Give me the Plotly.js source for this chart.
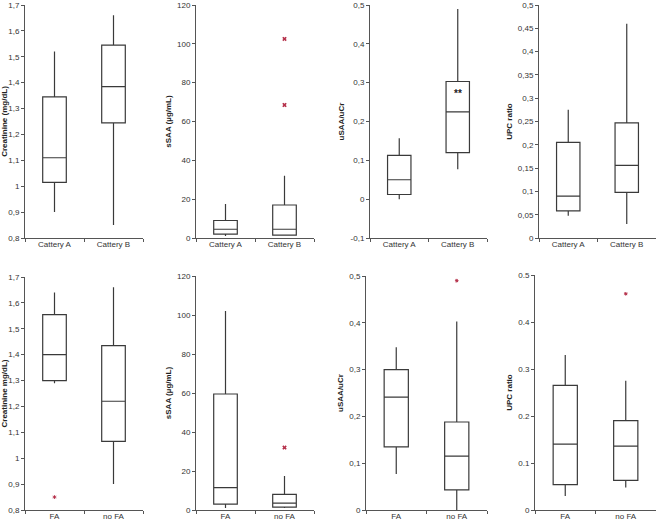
<!DOCTYPE html>
<html>
<head>
<meta charset="utf-8">
<script src="https://cdn.plot.ly/plotly-3.0.1.min.js"></script>
<style>html,body{margin:0;padding:0;background:#fff}#chart{width:657px;height:523px}</style>
</head>
<body>
<div id="chart"></div>
<script>
// ---- categories ----
const catTop = ['Cattery A', 'Cattery B'];
const catBot = ['FA', 'no FA'];

// ---- panel 1: Creatinine by cattery ----
const creatCatLow = [0.90, 0.85];
const creatCatQ1 = [1.015, 1.245];
const creatCatMed = [1.11, 1.385];
const creatCatQ3 = [1.345, 1.545];
const creatCatHigh = [1.52, 1.66];

// ---- panel 2: sSAA by cattery ----
const ssaaCatLow = [1.0, 1.5];
const ssaaCatQ1 = [2.0, 1.5];
const ssaaCatMed = [4.5, 4.5];
const ssaaCatQ3 = [9.0, 17.0];
const ssaaCatHigh = [17.5, 32.0];
const ssaaCatOutX = ['Cattery B', 'Cattery B'];
const ssaaCatOutY = [68.5, 102.5];

// ---- panel 3: uSAA/uCr by cattery ----
const usaaCatLow = [0.0, 0.077];
const usaaCatQ1 = [0.012, 0.12];
const usaaCatMed = [0.05, 0.225];
const usaaCatQ3 = [0.113, 0.303];
const usaaCatHigh = [0.157, 0.49];
const usaaSigLabel = '**';
const usaaSigCat = 'Cattery B';
const usaaSigY = 0.272;

// ---- panel 4: UPC by cattery ----
const upcCatLow = [0.048, 0.03];
const upcCatQ1 = [0.058, 0.098];
const upcCatMed = [0.09, 0.156];
const upcCatQ3 = [0.205, 0.247];
const upcCatHigh = [0.275, 0.46];

// ---- panel 5: Creatinine by FA ----
const creatFaLow = [1.29, 0.90];
const creatFaQ1 = [1.30, 1.065];
const creatFaMed = [1.40, 1.22];
const creatFaQ3 = [1.555, 1.435];
const creatFaHigh = [1.64, 1.66];
const creatFaOutX = ['FA'];
const creatFaOutY = [0.85];

// ---- panel 6: sSAA by FA ----
const ssaaFaLow = [1.0, 1.0];
const ssaaFaQ1 = [3.0, 1.5];
const ssaaFaMed = [11.5, 3.5];
const ssaaFaQ3 = [59.5, 8.0];
const ssaaFaHigh = [102.0, 17.5];
const ssaaFaOutX = ['no FA'];
const ssaaFaOutY = [32.0];

// ---- panel 7: uSAA/uCr by FA ----
const usaaFaLow = [0.077, 0.0];
const usaaFaQ1 = [0.135, 0.043];
const usaaFaMed = [0.241, 0.115];
const usaaFaQ3 = [0.30, 0.188];
const usaaFaHigh = [0.348, 0.403];
const usaaFaOutX = ['no FA'];
const usaaFaOutY = [0.49];

// ---- panel 8: UPC by FA ----
const upcFaLow = [0.03, 0.048];
const upcFaQ1 = [0.054, 0.063];
const upcFaMed = [0.14, 0.136];
const upcFaQ3 = [0.265, 0.19];
const upcFaHigh = [0.33, 0.275];
const upcFaOutX = ['no FA'];
const upcFaOutY = [0.46];

// ---- tick labels ----
const creatTickVals = [0.8, 0.9, 1.0, 1.1, 1.2, 1.3, 1.4, 1.5, 1.6, 1.7];
const creatTickText = ['0,8', '0,9', '1', '1,1', '1,2', '1,3', '1,4', '1,5', '1,6', '1,7'];
const ssaaTickVals = [0, 20, 40, 60, 80, 100, 120];
const ssaaTickText = ['0', '20', '40', '60', '80', '100', '120'];
const usaaCatTickVals = [-0.1, 0, 0.1, 0.2, 0.3, 0.4, 0.5];
const usaaCatTickText = ['-0,1', '0', '0,1', '0,2', '0,3', '0,4', '0,5'];
const upcCatTickVals = [0, 0.05, 0.1, 0.15, 0.2, 0.25, 0.3, 0.35, 0.4, 0.45, 0.5];
const upcCatTickText = ['0', '0,05', '0,1', '0,15', '0,2', '0,25', '0,3', '0,35', '0,4', '0,45', '0,5'];
const usaaFaTickVals = [0, 0.1, 0.2, 0.3, 0.4, 0.5];
const usaaFaTickText = ['0', '0,1', '0,2', '0,3', '0,4', '0,5'];
const upcFaTickVals = [0, 0.1, 0.2, 0.3, 0.4, 0.5];
const upcFaTickText = ['0', '0.1', '0.2', '0.3', '0.4', '0.5'];

// ---- axis titles ----
const yTitles = ['Creatinine (mg/dL)', 'sSAA (µg/mL)', 'uSAA/uCr', 'UPC ratio',
                 'Creatinine mg/dL)', 'sSAA (µg/mL)', 'uSAA/uCr', 'UPC ratio'];

// ---- build ----
const W = 657, H = 523;
const boxLine = '#3a3a3a';
const outColor = '#b5304a';

function boxTrace(idx, cats, low, q1, med, q3, high) {
  const s = idx === 1 ? '' : String(idx);
  return {
    type: 'box', x: cats, lowerfence: low, q1: q1, median: med, q3: q3, upperfence: high,
    xaxis: 'x' + s, yaxis: 'y' + s,
    fillcolor: '#ffffff', line: {color: boxLine, width: 1.2},
    whiskerwidth: 0, width: 0.4, boxpoints: false, showlegend: false, hoverinfo: 'skip'
  };
}
function outTrace(idx, xs, ys, sym, size, lw) {
  const s = idx === 1 ? '' : String(idx);
  return {
    type: 'scatter', mode: 'markers', x: xs, y: ys, xaxis: 'x' + s, yaxis: 'y' + s,
    marker: {symbol: sym, size: size, color: outColor, line: {color: outColor, width: lw}},
    showlegend: false, hoverinfo: 'skip', cliponaxis: false
  };
}

const traces = [
  boxTrace(1, catTop, creatCatLow, creatCatQ1, creatCatMed, creatCatQ3, creatCatHigh),
  boxTrace(2, catTop, ssaaCatLow, ssaaCatQ1, ssaaCatMed, ssaaCatQ3, ssaaCatHigh),
  outTrace(2, ssaaCatOutX, ssaaCatOutY, 'x', 4, 0),
  boxTrace(3, catTop, usaaCatLow, usaaCatQ1, usaaCatMed, usaaCatQ3, usaaCatHigh),
  boxTrace(4, catTop, upcCatLow, upcCatQ1, upcCatMed, upcCatQ3, upcCatHigh),
  boxTrace(5, catBot, creatFaLow, creatFaQ1, creatFaMed, creatFaQ3, creatFaHigh),
  outTrace(5, creatFaOutX, creatFaOutY, 'asterisk-open', 3, 1),
  boxTrace(6, catBot, ssaaFaLow, ssaaFaQ1, ssaaFaMed, ssaaFaQ3, ssaaFaHigh),
  outTrace(6, ssaaFaOutX, ssaaFaOutY, 'x', 4, 0),
  boxTrace(7, catBot, usaaFaLow, usaaFaQ1, usaaFaMed, usaaFaQ3, usaaFaHigh),
  outTrace(7, usaaFaOutX, usaaFaOutY, 'asterisk-open', 3, 1),
  boxTrace(8, catBot, upcFaLow, upcFaQ1, upcFaMed, upcFaQ3, upcFaHigh),
  outTrace(8, upcFaOutX, upcFaOutY, 'asterisk-open', 3, 1)
];

// pixel frames of each plot area [left, right, top, bottom]
const frames = [
  [25, 143, 5, 238], [196, 314, 5, 238], [370, 487, 5, 238], [539, 656, 5, 238],
  [25, 143, 277, 510], [196, 314, 276, 510], [366, 487, 276, 510], [535, 656, 275, 510]
];
const yRanges = [[0.8, 1.7], [0, 120], [-0.1, 0.5], [0, 0.5], [0.8, 1.7], [0, 120], [0, 0.5], [0, 0.5]];
const yTicks = [[creatTickVals, creatTickText], [ssaaTickVals, ssaaTickText], [usaaCatTickVals, usaaCatTickText],
  [upcCatTickVals, upcCatTickText], [creatTickVals, creatTickText], [ssaaTickVals, ssaaTickText],
  [usaaFaTickVals, usaaFaTickText], [upcFaTickVals, upcFaTickText]];

const tickFont = {family: 'Liberation Sans, Arial, sans-serif', size: 8, color: '#333333'};
const layout = {
  width: W, height: H, margin: {l: 0, r: 0, t: 0, b: 0},
  paper_bgcolor: '#ffffff', plot_bgcolor: '#ffffff', showlegend: false,
  annotations: []
};
for (let i = 0; i < 8; i++) {
  const s = i === 0 ? '' : String(i + 1);
  const f = frames[i];
  layout['xaxis' + s] = {
    domain: [f[0] / W, f[1] / W], anchor: 'y' + s, type: 'category',
    range: [-0.5, 1.5], showgrid: false, zeroline: false,
    showline: true, linecolor: '#555555', linewidth: 1,
    ticks: 'outside', ticklen: 3, tickcolor: '#555555', tickson: 'boundaries',
    ticklabelstandoff: -2, ticklabeloverflow: 'allow',
    tickfont: tickFont, fixedrange: true
  };
  layout['yaxis' + s] = {
    domain: [1 - f[3] / H, 1 - f[2] / H], anchor: 'x' + s,
    range: yRanges[i], showgrid: false, zeroline: false,
    showline: true, linecolor: '#555555', linewidth: 1,
    ticks: 'outside', ticklen: 3, tickcolor: '#555555',
    tickmode: 'array', tickvals: yTicks[i][0], ticktext: yTicks[i][1],
    ticklabeloverflow: 'allow',
    tickfont: tickFont, fixedrange: true,
    title: {text: '<b>' + yTitles[i] + '</b>', font: {family: 'Liberation Sans, Arial, sans-serif', size: 8, color: '#222222'}, standoff: 4}
  };
}
layout.annotations.push({
  xref: 'x3', yref: 'y3', x: usaaSigCat, y: usaaSigY, text: '<b>' + usaaSigLabel + '</b>',
  showarrow: false, font: {family: 'Liberation Sans, Arial, sans-serif', size: 10, color: '#222222'}
});

Plotly.newPlot('chart', traces, layout, {staticPlot: true, displayModeBar: false});
</script>
</body>
</html>
